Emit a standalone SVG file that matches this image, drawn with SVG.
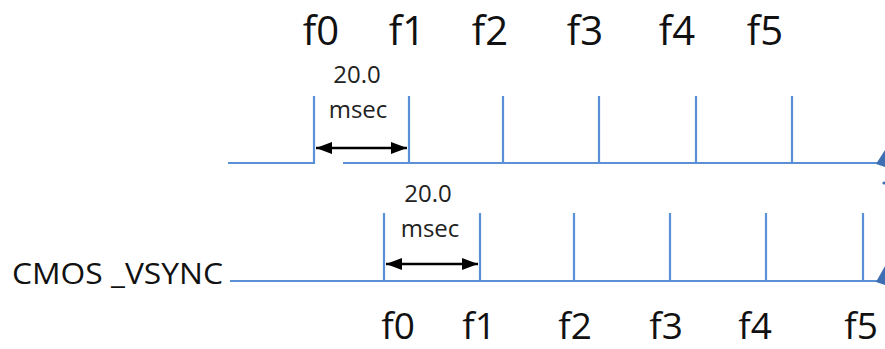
<svg xmlns="http://www.w3.org/2000/svg" width="885" height="349" viewBox="0 0 885 349">
<defs>
<style>
.sig{fill:none;stroke:#5b8fd6;stroke-width:2.2}
.dim{fill:none;stroke:#000;stroke-width:2.4}
.lbl{font-family:"Open Sans","Liberation Sans",sans-serif;font-size:40px;fill:#111;text-anchor:middle}
.lblb{font-family:"Open Sans","Liberation Sans",sans-serif;font-size:37px;fill:#111;text-anchor:middle}
.ms{font-family:"Open Sans","Liberation Sans",sans-serif;font-size:24px;fill:#222;text-anchor:middle}
.nm{font-family:"Open Sans","Liberation Sans",sans-serif;font-size:30px;fill:#111}
.tip{fill:#3f6fb3}
</style>
<marker id="ah" viewBox="0 0 16 12" refX="16" refY="6" markerWidth="16" markerHeight="12" markerUnits="userSpaceOnUse" orient="auto-start-reverse">
<path d="M0,0 L16,6 L0,12 Z" fill="#000"/>
</marker>
</defs>
<g id="connectors">
<g id="top-signal">
<path class="sig" d="M228,163 H314 V96"/>
<path class="sig" d="M343,163 H880"/>
<path class="sig" d="M409,96 V163 M503,96 V163 M599,96 V163 M696,96 V163 M792,96 V163"/>
<path class="tip" d="M876,164 L885,150 L885,167 Z"/>
<circle class="tip" cx="884" cy="183" r="1.6"/>
</g>
<g id="bottom-signal">
<path class="sig" d="M230,281 H880"/>
<path class="sig" d="M384,213 V281 M480,213 V281 M574,213 V281 M670,213 V281 M766,213 V281 M863,213 V281"/>
<path class="tip" d="M876,282 L885,266 L885,285 Z"/>
</g>
<line class="dim" x1="316" y1="148" x2="407" y2="148" marker-start="url(#ah)" marker-end="url(#ah)"/>
<line class="dim" x1="386" y1="264" x2="478" y2="264" marker-start="url(#ah)" marker-end="url(#ah)"/>
</g>
<g id="top-labels">
<text class="lbl" x="321" y="45">f0</text>
<text class="lbl" x="407" y="45">f1</text>
<text class="lbl" x="490" y="45">f2</text>
<text class="lbl" x="585" y="45">f3</text>
<text class="lbl" x="677" y="45">f4</text>
<text class="lbl" x="765" y="45">f5</text>
</g>
<g id="dim-top">
<text class="ms" x="357" y="83">20.0</text>
<text class="ms" x="358" y="118">msec</text>
</g>
<g id="dim-bottom">
<text class="ms" x="428" y="202">20.0</text>
<text class="ms" x="430" y="237">msec</text>
</g>
<g id="signal-name">
<text class="nm" x="12" y="284" textLength="211" lengthAdjust="spacingAndGlyphs">CMOS _VSYNC</text>
</g>
<g id="bottom-labels">
<text class="lblb" x="398" y="339">f0</text>
<text class="lblb" x="479" y="339">f1</text>
<text class="lblb" x="575" y="339">f2</text>
<text class="lblb" x="666" y="339">f3</text>
<text class="lblb" x="755" y="339">f4</text>
<text class="lblb" x="861" y="339">f5</text>
</g>
</svg>
